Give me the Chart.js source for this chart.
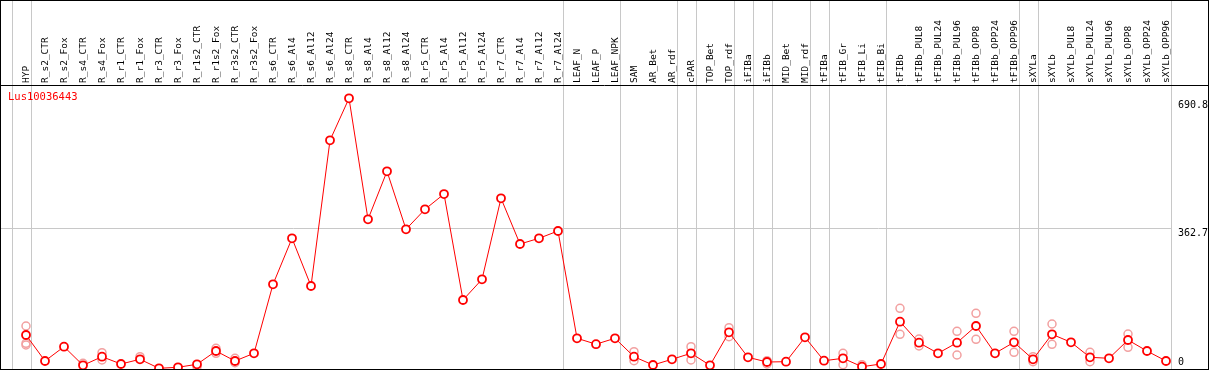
<!DOCTYPE html>
<html>
<head>
<meta charset="utf-8">
<script src="https://cdn.jsdelivr.net/npm/chart.js@4.4.0/dist/chart.umd.min.js"></script>
<style>
body { margin: 0; background: #fff; }
canvas { display: block; }
</style>
</head>
<body>
<canvas id="expr" width="1209" height="370"></canvas>
<script>
// expression profile for one gene, mean per sample + replicate values
var geneName = "Lus10036443";

var sampleNames = [
    "HYP", "R_s2_CTR", "R_s2_Fox", "R_s4_CTR", "R_s4_Fox", "R_r1_CTR", "R_r1_Fox",
    "R_r3_CTR", "R_r3_Fox", "R_r1s2_CTR", "R_r1s2_Fox", "R_r3s2_CTR", "R_r3s2_Fox",
    "R_s6_CTR", "R_s6_Al4", "R_s6_Al12", "R_s6_Al24", "R_s8_CTR", "R_s8_Al4", "R_s8_Al12",
    "R_s8_Al24", "R_r5_CTR", "R_r5_Al4", "R_r5_Al12", "R_r5_Al24", "R_r7_CTR", "R_r7_Al4",
    "R_r7_Al12", "R_r7_Al24", "LEAF_N", "LEAF_P", "LEAF_NPK", "SAM", "AR_Bet", "AR_rdf",
    "cPAR", "TOP_Bet", "TOP_rdf", "iFIBa", "iFIBb", "MID_Bet", "MID_rdf", "tFIBa",
    "tFIB_Gr", "tFIB_Li", "tFIB_Bi", "tFIBb", "tFIBb_PUL8", "tFIBb_PUL24", "tFIBb_PUL96",
    "tFIBb_OPP8", "tFIBb_OPP24", "tFIBb_OPP96", "sXYLa", "sXYLb", "sXYLb_PUL8",
    "sXYLb_PUL24", "sXYLb_PUL96", "sXYLb_OPP8", "sXYLb_OPP24", "sXYLb_OPP96"
];

var meanValues = [
    87.5, 20.6, 57.4, 9.5, 31.6, 12.9, 25.0, 1.8, 4.4, 12.1, 46.3, 20.6, 40.4,
    217.9, 336.2, 213.5, 588.3, 696.3, 385.1, 508.5, 359.4, 410.8, 450.1, 177.5,
    230.7, 439.1, 321.5, 336.2, 355.0, 79.0, 63.8, 79.0, 31.6, 10.3, 25.0, 40.4,
    9.5, 94.4, 30.1, 18.0, 18.8, 81.5, 21.3, 27.5, 5.9, 12.9, 121.7, 67.6, 40.4,
    67.6, 110.6, 40.4, 68.7, 25.0, 89.3, 68.7, 30.1, 27.5, 74.6, 46.3, 20.6
];

var replicateValues = [
    [110.6, 66.1, 61.7], [], [], [14.7], [41.9, 23.2], [], [31.6], [], [], [5.9],
    [53.2, 40.4], [27.5, 16.2], [], [], [], [], [], [], [], [], [], [], [], [], [],
    [], [], [], [], [], [], [], [44.5, 21.3], [], [], [57.4, 23.2], [], [106.2, 83.1],
    [], [21.3, 12.9], [], [], [], [40.4, 11.1], [11.1], [], [156.1, 89.3], [77.2, 59.2],
    [], [97.0, 36.0], [143.3, 76.4], [], [97.0, 43.0], [31.6, 18.8], [115.8, 63.5],
    [], [43.0, 18.8], [], [90.0, 55.8], [], []
];

// index of the last sample in each tissue group (-1 = left edge)
var groupEnds = [-1, 0, 28, 31, 34, 35, 37, 38, 39, 41, 42, 45, 52, 53, 60];

var yTickValues = [0, 362.7, 690.8];
var yTickLabels = ["0", "362.7", "690.8"];

var meanPoints = meanValues.map(function (v, i) { return { x: i, y: v }; });
var repPoints = [];
for (let i = 0; i < replicateValues.length; i++) {
    for (let j = 0; j < replicateValues[i].length; j++) {
        repPoints.push({ x: i, y: replicateValues[i][j] });
    }
}

var framePlugin = {
    id: 'frame',
    beforeDraw: function (chart) {
        var ctx = chart.ctx;
        var xs = chart.scales.x;
        ctx.save();
        ctx.fillStyle = '#fff';
        ctx.fillRect(0, 0, chart.width, chart.height);
        ctx.strokeStyle = '#c8c8c8';
        ctx.lineWidth = 1;
        groupEnds.forEach(function (g) {
            var px = Math.round(xs.getPixelForValue(g) + 5) + 0.5;
            ctx.beginPath();
            ctx.moveTo(px, 0);
            ctx.lineTo(px, chart.height);
            ctx.stroke();
        });
        ctx.restore();
    },
    afterDraw: function (chart) {
        var ctx = chart.ctx;
        var area = chart.chartArea;
        ctx.save();
        ctx.strokeStyle = '#000';
        ctx.lineWidth = 1;
        ctx.strokeRect(0.5, 0.5, chart.width - 1, area.bottom);
        ctx.beginPath();
        ctx.moveTo(0, area.top - 0.5);
        ctx.lineTo(chart.width, area.top - 0.5);
        ctx.stroke();
        ctx.fillStyle = '#ff0000';
        ctx.font = '10.5px "DejaVu Sans Mono"';
        ctx.textBaseline = 'middle';
        ctx.fillText(geneName, area.left + 7, area.top + 11);
        ctx.restore();
    }
};

const ctx = document.getElementById("expr").getContext("2d");
var exprChart = new Chart(ctx, {
    type: 'line',
    data: {
        datasets: [{
            data: meanPoints,
            borderColor: '#ff0000',
            backgroundColor: '#ff0000',
            borderWidth: 1,
            pointStyle: 'circle',
            pointRadius: 4,
            pointBorderWidth: 1.8,
            pointBorderColor: '#ff0000',
            pointBackgroundColor: '#ffffff',
            tension: 0
        }, {
            data: repPoints,
            showLine: false,
            pointStyle: 'circle',
            pointRadius: 4,
            pointBorderWidth: 1.5,
            pointBorderColor: '#f2a0a0',
            pointBackgroundColor: 'rgba(255,255,255,0)'
        }]
    },
    options: {
        responsive: false,
        animation: false,
        layout: { autoPadding: false, padding: { left: 1, right: 0, top: 0, bottom: 1 } },
        scales: {
            x: {
                type: 'linear',
                position: 'top',
                min: -25 / 19,
                max: 1145 / 19,
                afterBuildTicks: function (axis) {
                    axis.ticks = sampleNames.map(function (n, i) { return { value: i }; });
                },
                afterFit: function (axis) {
                    axis.height = 86;
                    axis.paddingLeft = 0;
                    axis.paddingRight = 0;
                },
                grid: { display: false, drawTicks: false },
                border: { display: false },
                ticks: {
                    autoSkip: false,
                    minRotation: 90,
                    maxRotation: 90,
                    padding: 3,
                    labelOffset: 12,
                    color: '#000',
                    font: { family: 'DejaVu Sans Mono', size: 9.5 },
                    callback: function (val) { return sampleNames[val]; }
                }
            },
            y: {
                position: 'right',
                min: 0,
                max: 728,
                afterBuildTicks: function (axis) {
                    axis.ticks = yTickValues.map(function (v) { return { value: v }; });
                },
                afterFit: function (axis) {
                    axis.width = 38;
                    axis.paddingTop = 0;
                    axis.paddingBottom = 0;
                },
                grid: {
                    drawTicks: false,
                    color: function (c) {
                        return (c.tick && c.tick.value === 362.7) ? '#c8c8c8' : 'rgba(0,0,0,0)';
                    }
                },
                border: { display: false },
                ticks: {
                    padding: 7,
                    labelOffset: 5,
                    color: '#000',
                    font: { family: 'DejaVu Sans Mono', size: 10 },
                    callback: function (val) {
                        var lbl = yTickLabels[yTickValues.indexOf(val)];
                        // bottom label sits inside the frame
                        return val === 0 ? [lbl, '', ''] : lbl;
                    }
                }
            }
        },
        plugins: {
            legend: { display: false },
            tooltip: { enabled: false }
        }
    },
    plugins: [framePlugin]
});
</script>
</body>
</html>
